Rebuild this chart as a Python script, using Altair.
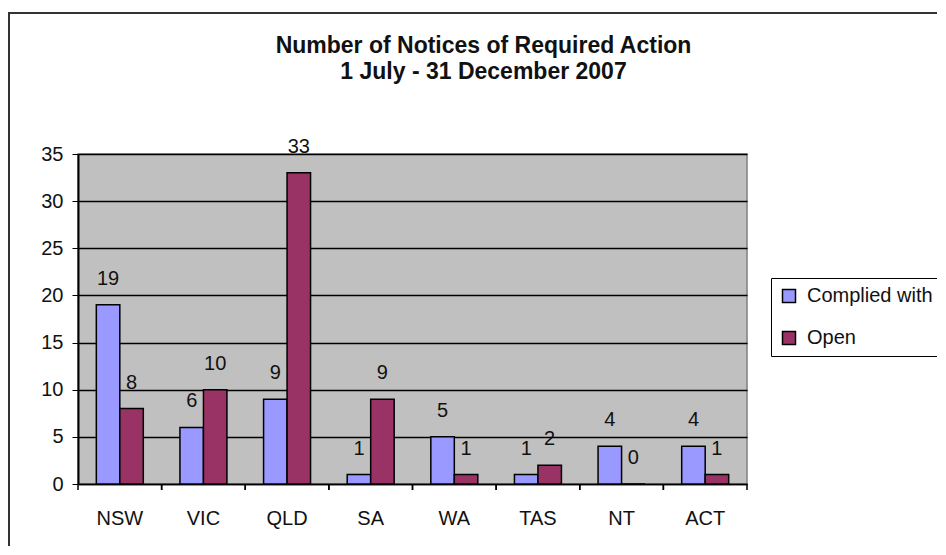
import altair as alt
import pandas as pd

states = ["NSW", "VIC", "QLD", "SA", "WA", "TAS", "NT", "ACT"]
series = ["Complied with", "Open"]
complied = [19, 6, 9, 1, 5, 1, 4, 4]
open_ = [8, 10, 33, 9, 1, 2, 0, 1]
y_ticks = [0, 5, 10, 15, 20, 25, 30, 35]
colors = ["#9999FF", "#993366"]

rows = []
for s, c, o in zip(states, complied, open_):
    rows.append({"state": s, "series": series[0], "value": c})
    rows.append({"state": s, "series": series[1], "value": o})
df = pd.DataFrame(rows)

FONT = "Liberation Sans"
W, H = 669, 330

x_enc = alt.X("state:N", sort=states, title=None,
              scale=alt.Scale(paddingInner=0, paddingOuter=0),
              axis=alt.Axis(labelAngle=0, ticks=False, tickSize=0, labelPadding=24,
                            labelFontSize=20, labelFont=FONT, labelColor="#111",
                            domainColor="black", domainWidth=1.5))
xoff = alt.XOffset("series:N", sort=series,
                   scale=alt.Scale(paddingInner=0, paddingOuter=0.78))
y_enc = alt.Y("value:Q", title=None,
              scale=alt.Scale(domain=[0, 35], nice=False),
              axis=alt.Axis(values=y_ticks, grid=True, gridColor="black", gridWidth=1.5,
                            tickColor="black", tickSize=6, labelPadding=9,
                            labelFontSize=20, labelFont=FONT, labelColor="#111",
                            domainColor="black", domainWidth=2))
color = alt.Color("series:N", sort=series,
                  scale=alt.Scale(domain=series, range=colors),
                  legend=alt.Legend(title=None, orient="none", legendX=693, legendY=124,
                                    symbolType="square", symbolSize=169,
                                    symbolStrokeColor="black", symbolStrokeWidth=1.5,
                                    labelFontSize=20, labelFont=FONT, labelColor="#111",
                                    labelOffset=8, rowPadding=22, padding=8,
                                    labelLimit=300, strokeColor="black"))

base = alt.Chart(df)

bars = base.mark_bar(stroke="black", strokeWidth=1.5).encode(
    x=x_enc, xOffset=xoff, y=y_enc, color=color
)

labels = base.mark_text(dy=-20, baseline="alphabetic", fontSize=20, font=FONT,
                        color="#111").encode(
    x=alt.X("state:N", sort=states), xOffset=alt.XOffset("series:N", sort=series),
    y="value:Q", text="value:Q"
)

tick_df = pd.DataFrame({"state": states})
ticks_l = alt.Chart(tick_df).mark_rule(color="black", strokeWidth=1.5).encode(
    x=alt.X("state:N", sort=states, bandPosition=0),
    y=alt.value(H), y2=alt.value(H + 6)
)
ticks_r = alt.Chart(tick_df).mark_rule(color="black", strokeWidth=1.5).encode(
    x=alt.X("state:N", sort=states, bandPosition=1),
    y=alt.value(H), y2=alt.value(H + 6)
)

border = alt.Chart(pd.DataFrame({"a": [0]})).mark_rect(
    fillOpacity=0, stroke="#333", strokeWidth=2
).encode(
    x=alt.value(-69), x2=alt.value(900), y=alt.value(-141), y2=alt.value(430)
)

chart = alt.layer(border, bars, labels, ticks_l, ticks_r).properties(
    width=W, height=H,
    title=alt.TitleParams(
        text=["Number of Notices of Required Action", "1 July - 31 December 2007"],
        fontSize=23, fontWeight="bold", font=FONT, color="#111",
        anchor="middle", dx=71, offset=-72, lineHeight=26
    ),
    padding={"left": 70, "top": 146, "right": 190, "bottom": 62},
    autosize=alt.AutoSizeParams(type="none"),
    background="white",
).configure_view(
    fill="#C0C0C0", stroke="#808080", strokeWidth=1.5
)

chart.save("out.html", embed_options={"renderer": "svg", "actions": False})
